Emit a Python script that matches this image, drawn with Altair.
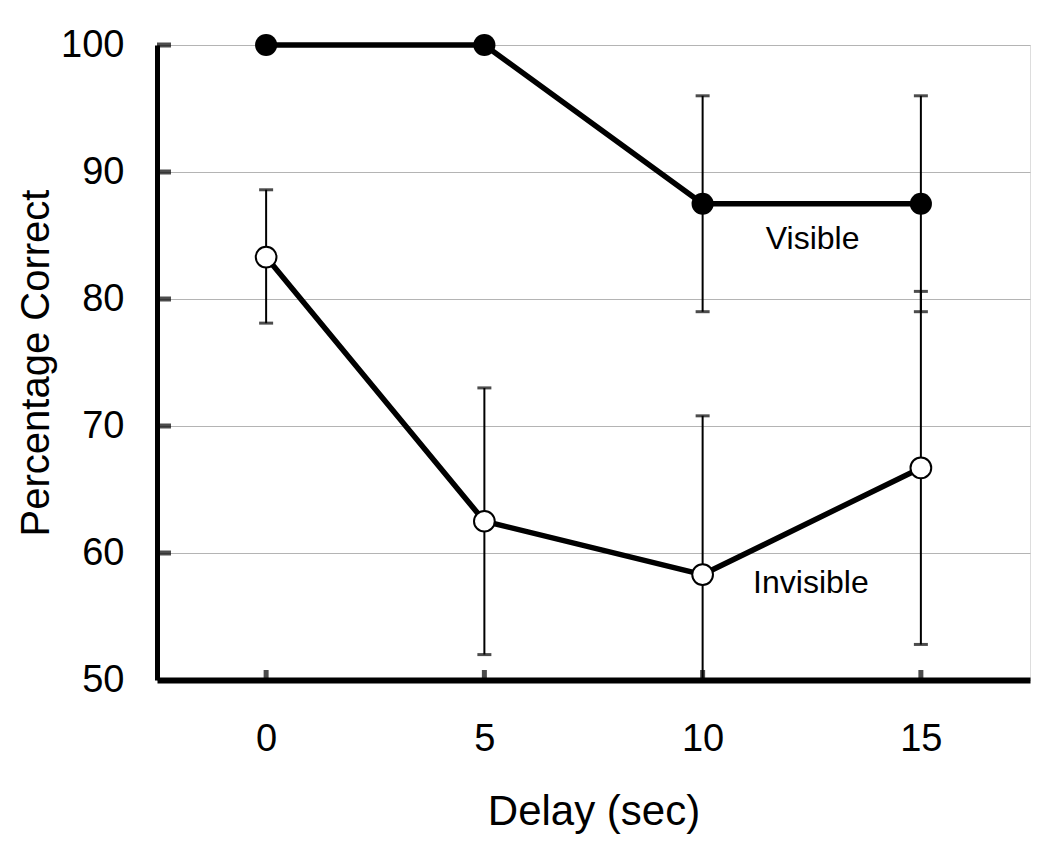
import altair as alt
import pandas as pd

delay = [0, 5, 10, 15]
visible = [100, 100, 87.5, 87.5]
visible_lo = [None, None, 79.0, 79.0]
visible_hi = [None, None, 96.0, 96.0]
invisible = [83.3, 62.5, 58.3, 66.7]
invisible_lo = [78.1, 52.0, 45.8, 52.8]
invisible_hi = [88.6, 73.0, 70.8, 80.6]
y_ticks = [50, 60, 70, 80, 90, 100]
x_ticks = [0, 5, 10, 15]
label_text = ["Visible", "Invisible"]
label_x = [12.52, 12.48]
label_y = [83.9, 56.85]

rows = []
for i, d in enumerate(delay):
    rows.append({"delay": d, "group": "Visible", "pc": visible[i], "lo": visible_lo[i], "hi": visible_hi[i]})
for i, d in enumerate(delay):
    rows.append({"delay": d, "group": "Invisible", "pc": invisible[i], "lo": invisible_lo[i], "hi": invisible_hi[i]})
df = pd.DataFrame(rows)
err = df.dropna(subset=["lo"])

FONT = "Liberation Sans"
W, H = 873, 635

xs = alt.Scale(domain=[-2.5, 17.5], nice=False, zero=False)
ys = alt.Scale(domain=[50, 100], nice=False, zero=False)

x_axis = alt.Axis(values=x_ticks, title="Delay (sec)", grid=False, tickSize=0,
                  labelPadding=40, labelFontSize=38, labelFont=FONT, labelColor="black",
                  titleFontSize=42, titleFont=FONT, titleFontWeight="normal", titleColor="black",
                  titlePadding=33, domainColor="black", domainWidth=6)
y_axis = alt.Axis(values=y_ticks, title="Percentage Correct", grid=True, gridColor="#b4b4b4",
                  gridWidth=1, tickSize=0, labelPadding=33, labelFontSize=38, labelFont=FONT,
                  labelColor="black", titleFontSize=40, titleFont=FONT, titleFontWeight="normal",
                  titleColor="black", titlePadding=4, domainColor="black", domainWidth=5)

base = alt.Chart(df)

err_rule = alt.Chart(err).mark_rule(color="black", strokeWidth=2, clip=True).encode(
    x=alt.X("delay:Q", scale=xs, axis=x_axis),
    y=alt.Y("lo:Q", scale=ys, axis=y_axis),
    y2="hi:Q",
)
cap_lo = alt.Chart(err).mark_tick(color="black", orient="horizontal", size=14, thickness=3, clip=True).encode(
    x=alt.X("delay:Q", scale=xs), y=alt.Y("lo:Q", scale=ys)
)
cap_hi = alt.Chart(err).mark_tick(color="black", orient="horizontal", size=14, thickness=3, clip=True).encode(
    x=alt.X("delay:Q", scale=xs), y=alt.Y("hi:Q", scale=ys)
)

lines = base.mark_line(color="black", strokeWidth=5.5).encode(
    x=alt.X("delay:Q", scale=xs), y=alt.Y("pc:Q", scale=ys), detail="group:N"
)

vis_pts = alt.Chart(df[df.group == "Visible"]).mark_point(
    shape="circle", filled=True, color="black", size=490, opacity=1
).encode(x=alt.X("delay:Q", scale=xs), y=alt.Y("pc:Q", scale=ys))

inv_pts = alt.Chart(df[df.group == "Invisible"]).mark_point(
    shape="circle", filled=True, fill="white", stroke="black", strokeWidth=2, size=430, opacity=1
).encode(x=alt.X("delay:Q", scale=xs), y=alt.Y("pc:Q", scale=ys))

# inward ticks
ytick_df = pd.DataFrame({"v": y_ticks[1:]})
ytk = alt.Chart(ytick_df).mark_tick(color="black", orient="horizontal", size=14, thickness=5, xOffset=7).encode(
    x=alt.value(0), y=alt.Y("v:Q", scale=ys)
)
xtick_df = pd.DataFrame({"v": x_ticks})
xtk = alt.Chart(xtick_df).mark_tick(color="black", orient="vertical", size=10, thickness=5, yOffset=-5).encode(
    x=alt.X("v:Q", scale=xs), y=alt.value(H)
)

labels_df = pd.DataFrame({"t": label_text, "x": label_x, "y": label_y})
labels = alt.Chart(labels_df).mark_text(font=FONT, fontSize=32, color="black", baseline="alphabetic").encode(
    x=alt.X("x:Q", scale=xs), y=alt.Y("y:Q", scale=ys), text="t:N"
)

chart = alt.layer(err_rule, cap_lo, cap_hi, lines, vis_pts, inv_pts, ytk, xtk, labels).properties(
    width=W, height=H,
    autosize=alt.AutoSizeParams(type="none"),
    padding={"left": 149, "top": 37, "right": 12, "bottom": 154},
).configure_view(stroke=None).configure(background="white")

chart.save("out.html", embed_options={"renderer": "svg", "actions": False})
